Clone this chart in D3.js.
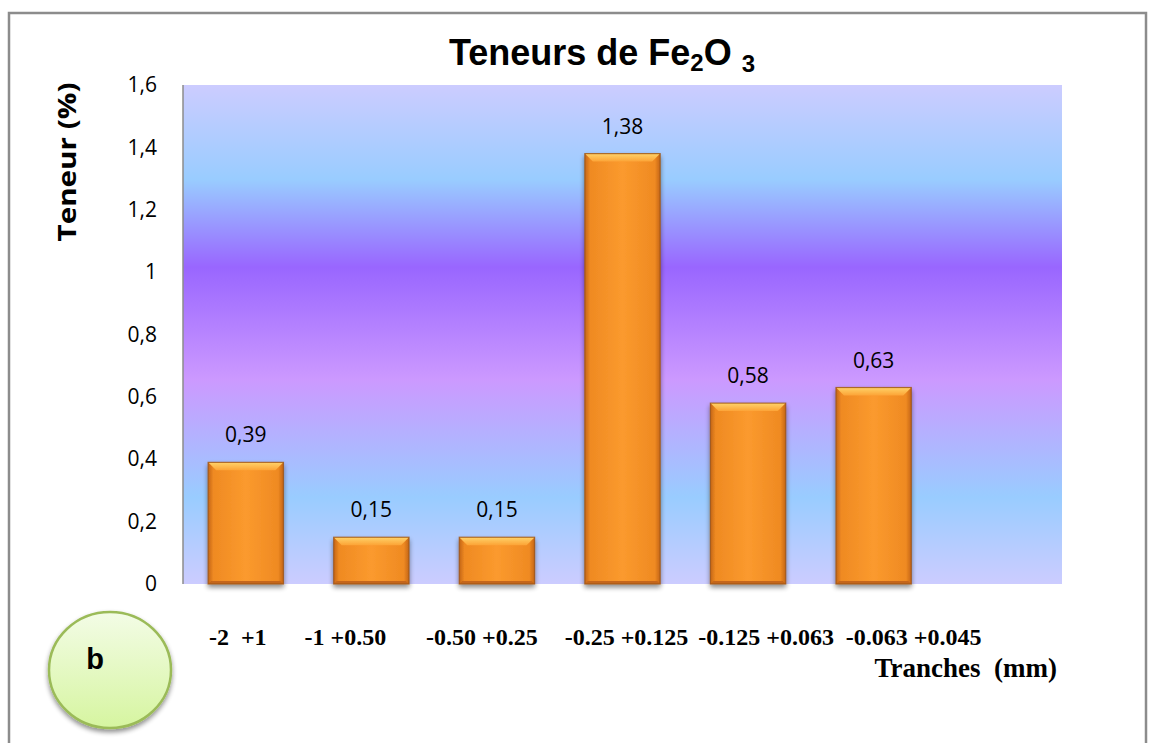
<!DOCTYPE html>
<html><head><meta charset="utf-8">
<script src="https://cdn.jsdelivr.net/npm/d3@7"></script>
<style>
html,body{margin:0;padding:0;background:#fff;}
svg{display:block;}
</style></head>
<body>
<script>
// ---- data ----
const categories = ["-2  +1", "-1 +0.50", "-0.50 +0.25", "-0.25 +0.125", "-0.125 +0.063", "-0.063 +0.045", ""];
const values = [0.39, 0.15, 0.15, 1.38, 0.58, 0.63];
const valueLabels = ["0,39", "0,15", "0,15", "1,38", "0,58", "0,63"];
const yTicks = [0, 0.2, 0.4, 0.6, 0.8, 1, 1.2, 1.4, 1.6];
const yTickLabels = ["0", "0,2", "0,4", "0,6", "0,8", "1", "1,2", "1,4", "1,6"];

// ---- layout ----
const W = 1149, H = 743;
const plot = {left: 183, right: 1062, top: 85, bottom: 584};
const labelOffsets = [-8, -26, -15, 4, 18, 40]; // category label shifts (px) relative to band centre

const svg = d3.select("body").append("svg").attr("width", W).attr("height", H);
const defs = svg.append("defs");

const bg = defs.append("linearGradient").attr("id","bg").attr("x1",0).attr("y1",0).attr("x2",0).attr("y2",1);
[[0,"#ccccff"],[0.19,"#99ccff"],[0.365,"#9966ff"],[0.59,"#cc99ff"],[0.826,"#99ccff"],[1,"#ccccff"]]
  .forEach(([o,c])=>bg.append("stop").attr("offset",o).attr("stop-color",c));

const bh = defs.append("linearGradient").attr("id","barH").attr("x1",0).attr("y1",0).attr("x2",1).attr("y2",0);
[[0,"#c46516"],[0.07,"#ef8a22"],[0.5,"#fb9a2e"],[0.93,"#ef8a22"],[1,"#c46516"]]
  .forEach(([o,c])=>bh.append("stop").attr("offset",o).attr("stop-color",c));
const bt = defs.append("linearGradient").attr("id","barT").attr("x1",0).attr("y1",0).attr("x2",0).attr("y2",1);
[[0,"#ffd36a"],[1,"#fca336"]].forEach(([o,c])=>bt.append("stop").attr("offset",o).attr("stop-color",c));

const cg = defs.append("linearGradient").attr("id","circ").attr("x1",0).attr("y1",0).attr("x2",0).attr("y2",1);
[[0,"#f3fce6"],[1,"#d6f5a0"]].forEach(([o,c])=>cg.append("stop").attr("offset",o).attr("stop-color",c));

const shadow = defs.append("filter").attr("id","sh").attr("x","-20%").attr("y","-20%").attr("width","140%").attr("height","150%");
shadow.append("feGaussianBlur").attr("in","SourceAlpha").attr("stdDeviation",2.5);
shadow.append("feOffset").attr("dx",0).attr("dy",3).attr("result","b");
shadow.append("feComponentTransfer").append("feFuncA").attr("type","linear").attr("slope",0.45);
const m = shadow.append("feMerge"); m.append("feMergeNode"); m.append("feMergeNode").attr("in","SourceGraphic");

// outer border
svg.append("rect").attr("x",9).attr("y",13).attr("width",1137).attr("height",760)
  .attr("fill","#fff").attr("stroke","#8c8c8c").attr("stroke-width",2.5);

// scales
const x = d3.scaleBand().domain(d3.range(categories.length)).range([plot.left, plot.right]).paddingInner(0.4).paddingOuter(0.2);
const y = d3.scaleLinear().domain([0, 1.6]).range([plot.bottom, plot.top]);

svg.append("rect").attr("x",plot.left).attr("y",plot.top).attr("width",plot.right-plot.left).attr("height",plot.bottom-plot.top)
  .attr("fill","url(#bg)");

svg.append("line").attr("x1",plot.left).attr("x2",plot.left).attr("y1",plot.top).attr("y2",plot.bottom)
  .attr("stroke","#8c8c8c").attr("stroke-width",1.5);
svg.append("line").attr("x1",plot.left).attr("x2",plot.right).attr("y1",plot.bottom+1).attr("y2",plot.bottom+1)
  .attr("stroke","#8c8c8c").attr("stroke-width",2).attr("filter","url(#sh)");

const yAxis = d3.axisLeft(y).tickValues(yTicks).tickFormat((d,i)=>yTickLabels[i]).tickSize(0).tickPadding(26);
const ya = svg.append("g").attr("transform",`translate(${plot.left},0)`).call(yAxis);
ya.select(".domain").remove();
ya.selectAll("text").attr("font-family","'Open Sans', sans-serif").attr("font-size",21).attr("fill","#000");

// bars
const bars = svg.append("g").selectAll("g").data(values).join("g").attr("filter","url(#sh)");
bars.each(function(v,i){
  const g = d3.select(this);
  const x0 = x(i), w = x.bandwidth(), y0 = y(v), h = y(0)-y(v);
  const bev = Math.min(8, h/3);
  g.append("rect").attr("x",x0).attr("y",y0).attr("width",w).attr("height",h).attr("fill","url(#barH)");
  g.append("path").attr("d",`M${x0},${y0}L${x0+w},${y0}L${x0+w-bev},${y0+bev}L${x0+bev},${y0+bev}Z`).attr("fill","url(#barT)");
  g.append("path").attr("d",`M${x0},${y0+h}L${x0+w},${y0+h}L${x0+w-3},${y0+h-3}L${x0+3},${y0+h-3}Z`).attr("fill","#c4661a");
  g.append("rect").attr("x",x0).attr("y",y0).attr("width",w).attr("height",h).attr("fill","none")
    .attr("stroke","#9c5516").attr("stroke-width",1.2).attr("stroke-opacity",0.8);
});

// value labels
svg.append("g").selectAll("text").data(values).join("text")
  .attr("x",(d,i)=>x(i)+x.bandwidth()/2).attr("y",d=>y(d)-20)
  .attr("text-anchor","middle").attr("font-family","'Open Sans', sans-serif").attr("font-size",21).attr("fill","#000")
  .text((d,i)=>valueLabels[i]);

// category labels
svg.append("g").selectAll("text").data(categories.slice(0, values.length)).join("text")
  .attr("x",(d,i)=>x(i)+x.bandwidth()/2+labelOffsets[i]).attr("y",645)
  .attr("text-anchor","middle").attr("font-family","'Liberation Serif', 'Times New Roman', serif")
  .attr("font-weight","bold").attr("font-size",24).attr("fill","#000")
  .style("white-space","pre").attr("xml:space","preserve")
  .text(d=>d);

svg.append("text").attr("x",1057).attr("y",677).attr("text-anchor","end")
  .attr("font-family","'Liberation Serif', 'Times New Roman', serif").attr("font-weight","bold").attr("font-size",27)
  .style("white-space","pre").attr("xml:space","preserve").text("Tranches  (mm)");

svg.append("text").attr("transform","translate(76,162) rotate(-90)").attr("text-anchor","middle")
  .attr("font-family","'Open Sans', sans-serif").attr("font-weight","bold").attr("font-size",25)
  .attr("textLength",159).attr("lengthAdjust","spacingAndGlyphs").text("Teneur (%)");

// title
const t = svg.append("text").attr("x",602).attr("y",65).attr("text-anchor","middle")
  .attr("font-family","'Liberation Sans', Arial, sans-serif").attr("font-weight","bold").attr("font-size",36);
t.append("tspan").text("Teneurs de Fe");
t.append("tspan").attr("font-size",24).attr("dy",6).text("2");
t.append("tspan").attr("dy",-6).text("O ");
t.append("tspan").attr("font-size",24).attr("dy",7).text("3");

// circle "b"
svg.append("ellipse").attr("cx",110).attr("cy",670).attr("rx",61).attr("ry",58)
  .attr("fill","url(#circ)").attr("stroke","#9bbb59").attr("stroke-width",2.5).attr("filter","url(#sh)");
svg.append("text").attr("x",95).attr("y",669).attr("text-anchor","middle")
  .attr("font-family","'Liberation Sans', Arial, sans-serif").attr("font-weight","bold").attr("font-size",29).text("b");
</script>
</body></html>
